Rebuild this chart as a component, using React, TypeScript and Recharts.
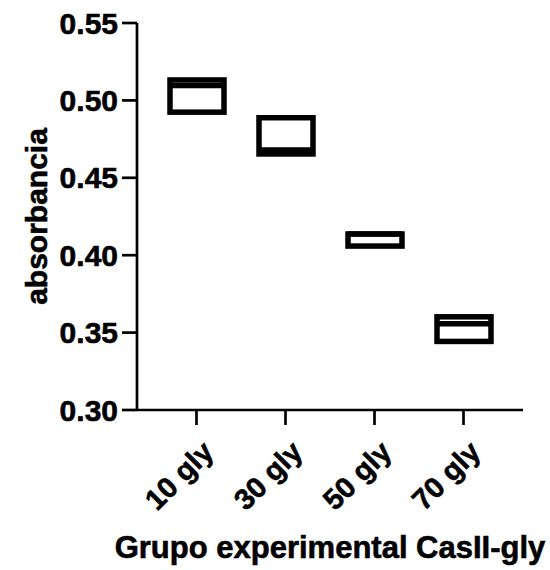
import { Bar, BarChart, Label, XAxis, YAxis } from "recharts";

const groups = ["10 gly", "30 gly", "50 gly", "70 gly"];
const minValues = [0.4924, 0.4654, 0.4059, 0.3443];
const maxValues = [0.5132, 0.4888, 0.4137, 0.3602];
const meanValues = [0.5096, 0.468, 0.4137, 0.3557];
const yTicks = [0.3, 0.35, 0.4, 0.45, 0.5, 0.55];

const data = groups.map((group, i) => ({
  group,
  range: [minValues[i], maxValues[i]],
  min: minValues[i],
  max: maxValues[i],
  mean: meanValues[i],
}));

const FONT = "'Liberation Sans', Arial, Helvetica, sans-serif";
const STROKE = 5.5;

function FloatingBox(props: any) {
  const { x, y, width, height, payload } = props;
  const top = height < 0 ? y + height : y;
  const h = Math.abs(height);
  const span = payload.max - payload.min;
  const meanY = span > 0 ? top + ((payload.max - payload.mean) / span) * h : top;
  return (
    <g>
      <rect x={x} y={top} width={width} height={h} fill="#fff" stroke="#000" strokeWidth={STROKE} />
      <line x1={x} x2={x + width} y1={meanY} y2={meanY} stroke="#000" strokeWidth={STROKE} />
    </g>
  );
}

function XTick(props: any) {
  const { x, y, payload } = props;
  return (
    <text
      x={0}
      y={0}
      transform={`translate(${x + 4},${y + 12}) rotate(-45)`}
      textAnchor="end"
      dominantBaseline="hanging"
      fontFamily={FONT}
      fontWeight="bold"
      fontSize={29}
      stroke="#000"
      strokeWidth={0.6}
      fill="#000"
    >
      {payload.value}
    </text>
  );
}

export default function App() {
  return (
    <div style={{ position: "absolute", left: 0, top: 0, background: "#fff" }}>
      <BarChart
        width={550}
        height={570}
        data={data}
        margin={{ top: 23, right: 27, bottom: 0, left: 0 }}
        barSize={54}
      >
        <XAxis
          dataKey="group"
          padding={{ left: 15, right: 15 }}
          axisLine={{ stroke: "#000", strokeWidth: 2.7 }}
          tickLine={{ stroke: "#000", strokeWidth: 2.7 }}
          tickSize={15}
          height={160}
          interval={0}
          tick={<XTick />}
        >
          <Label
            content={({ viewBox }: any) => (
              <text
                x={viewBox.x + viewBox.width / 2}
                y={558}
                textAnchor="middle"
                fontFamily={FONT}
                fontWeight="bold"
                fontSize={31}
                stroke="#000"
                strokeWidth={0.6}
                fill="#000"
              >
                Grupo experimental CasII-gly
              </text>
            )}
          />
        </XAxis>
        <YAxis
          type="number"
          domain={[0.3, 0.55]}
          ticks={yTicks}
          interval={0}
          tickFormatter={(v: number) => v.toFixed(2)}
          width={137}
          axisLine={{ stroke: "#000", strokeWidth: 2.7 }}
          tickLine={{ stroke: "#000", strokeWidth: 2.7 }}
          tickSize={15}
          tickMargin={4}
          tick={{
            fill: "#000",
            stroke: "#000",
            strokeWidth: 0.6,
            fontFamily: FONT,
            fontWeight: "bold",
            fontSize: 30,
          }}
        >
          <Label
            content={({ viewBox }: any) => {
              const cy = viewBox.y + viewBox.height / 2;
              return (
                <text
                  x={47}
                  y={cy}
                  transform={`rotate(-90, 47, ${cy})`}
                  textAnchor="middle"
                  fontFamily={FONT}
                  fontWeight="bold"
                  fontSize={30}
                  stroke="#000"
                  strokeWidth={0.6}
                  fill="#000"
                >
                  absorbancia
                </text>
              );
            }}
          />
        </YAxis>
        <Bar dataKey="range" shape={<FloatingBox />} isAnimationActive={false} />
      </BarChart>
    </div>
  );
}
